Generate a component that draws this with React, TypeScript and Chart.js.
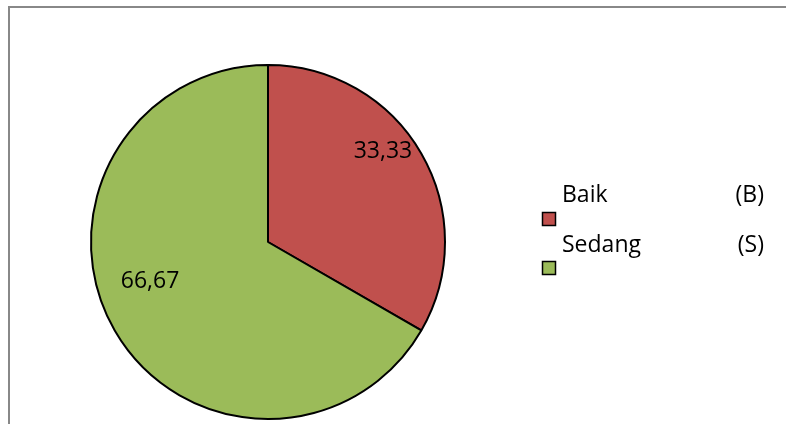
import React, { useEffect, useRef } from "react";
import { Chart, registerables } from "chart.js";

Chart.register(...registerables);

const categories = ["Baik", "Sedang"];
const codes = ["(B)", "(S)"];
const values = [33.33, 66.67];
const valueLabels = ["33,33", "66,67"];
const colors = ["#C0504D", "#9BBB59"];

const FONT = "'Open Sans', sans-serif";

const labelPlugin = {
  id: "sliceLabels",
  afterDatasetsDraw(chart: any) {
    const ctx = chart.ctx;
    const meta = chart.getDatasetMeta(0);
    const angleShift = [-8.7, 12.2];
    const radiusFrac = [0.832, 0.70];
    ctx.save();
    ctx.font = `23px ${FONT}`;
    ctx.fillStyle = "#000";
    ctx.textAlign = "center";
    ctx.textBaseline = "alphabetic";
    meta.data.forEach((arc: any, i: number) => {
      const p = arc.getProps(["x", "y", "startAngle", "endAngle", "outerRadius"], true);
      const a = (p.startAngle + p.endAngle) / 2 + (angleShift[i] * Math.PI) / 180;
      const r = p.outerRadius * radiusFrac[i];
      const x = p.x + Math.cos(a) * r;
      const y = p.y + Math.sin(a) * r;
      ctx.fillText(valueLabels[i], x, y + 8);
    });
    ctx.restore();
  },
};

const legendPlugin = {
  id: "customLegend",
  afterDraw(chart: any) {
    const ctx = chart.ctx;
    const labels = chart.data.labels as string[];
    const bg = chart.data.datasets[0].backgroundColor as string[];
    ctx.save();
    ctx.font = `23px ${FONT}`;
    ctx.fillStyle = "#000";
    ctx.textBaseline = "alphabetic";
    labels.forEach((lab, i) => {
      const baseY = 202 + i * 50;
      ctx.textAlign = "left";
      ctx.fillStyle = "#000";
      ctx.fillText(lab, 562, baseY);
      ctx.textAlign = "right";
      ctx.fillText(codes[i], 764, baseY);
      const sx = 542.5;
      const sy = 212.5 + i * 49;
      ctx.fillStyle = bg[i];
      ctx.fillRect(sx, sy, 13, 13);
      ctx.lineWidth = 1.5;
      ctx.strokeStyle = "#000";
      ctx.strokeRect(sx, sy, 13, 13);
    });
    ctx.restore();
  },
};

export default function App() {
  const ref = useRef<HTMLCanvasElement | null>(null);
  useEffect(() => {
    if (!ref.current) return;
    const chart = new Chart(ref.current, {
      type: "pie",
      data: {
        labels: categories,
        datasets: [
          {
            data: values,
            backgroundColor: colors,
            borderColor: "#000",
            borderWidth: 2,
          },
        ],
      },
      options: {
        animation: false,
        responsive: false,
        devicePixelRatio: 1,
        layout: { padding: { left: 90, right: 340, top: 64, bottom: 4 } },
        plugins: {
          legend: { display: false },
          tooltip: { enabled: false },
        },
      },
      plugins: [labelPlugin, legendPlugin],
    });
    return () => chart.destroy();
  }, []);
  return (
    <div style={{ position: "fixed", left: 0, top: 0, width: 786, height: 424, background: "#fff", overflow: "hidden" }}>
      <canvas ref={ref} width={786} height={424} style={{ position: "absolute", left: 0, top: 0 }} />
      <div
        style={{
          position: "absolute",
          left: 8,
          top: 6,
          width: 900,
          height: 500,
          borderTop: "2px solid #888",
          borderLeft: "2px solid #888",
          pointerEvents: "none",
        }}
      />
    </div>
  );
}
